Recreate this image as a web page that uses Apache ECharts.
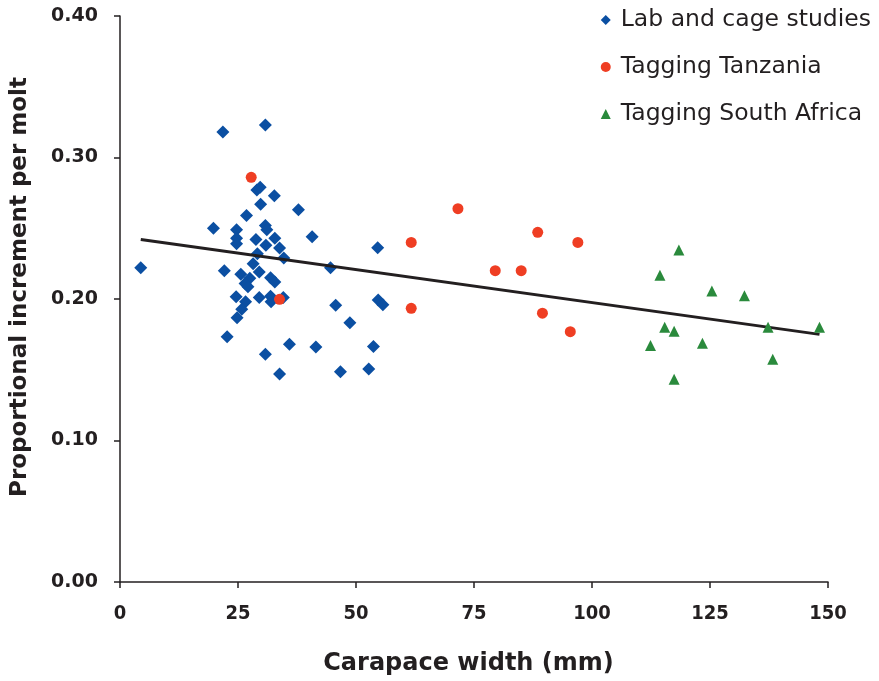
<!DOCTYPE html>
<html><head><meta charset="utf-8">
<script src="https://cdn.jsdelivr.net/npm/echarts@6/dist/echarts.min.js"></script>
<style>html,body{margin:0;padding:0;background:#fff}#c{width:879px;height:681px}</style>
</head><body><div id="c"></div>
<script>
const labX = [4.4,21.8,30.8,29.0,29.7,32.7,29.8,37.8,26.8,19.8,24.7,30.8,31.1,40.7,24.7,28.8,32.8,24.7,30.9,33.8,29.1,34.7,22.1,28.2,29.5,25.6,27.5,26.5,27.1,31.9,32.8,24.6,29.5,31.9,32.0,34.6,26.6,25.8,24.8,22.7,35.9,41.5,30.8,33.8,54.6,44.6,45.7,54.7,55.7,48.7,53.7,46.7,52.7];
const labY = [0.222,0.318,0.323,0.277,0.279,0.273,0.267,0.263,0.259,0.250,0.249,0.252,0.249,0.244,0.243,0.242,0.243,0.239,0.238,0.236,0.232,0.229,0.220,0.225,0.219,0.2175,0.2146,0.211,0.2087,0.215,0.212,0.2016,0.201,0.202,0.198,0.201,0.198,0.1927,0.1868,0.1734,0.168,0.166,0.161,0.147,0.2363,0.222,0.1955,0.1993,0.196,0.1833,0.1664,0.1486,0.1505];
const tanX = [27.8,33.8,61.7,71.6,88.5,97.0,79.5,85.0,61.7,89.5,95.4];
const tanY = [0.286,0.1998,0.240,0.2638,0.2471,0.240,0.220,0.220,0.1934,0.190,0.1769];
const saX = [118.4,114.4,125.4,132.3,115.4,117.4,137.3,148.2,112.4,123.4,138.3,117.4];
const saY = [0.2346,0.2167,0.2057,0.2023,0.180,0.1772,0.180,0.180,0.1672,0.1687,0.1574,0.1432];
const trendX = [4.4,148.2];
const trendY = [0.242,0.175];
const seriesNames = ['Lab and cage studies','Tagging Tanzania','Tagging South Africa'];
const xTitle = 'Carapace width (mm)';
const yTitle = 'Proportional increment per molt';

const zip = (a,b)=>a.map((v,i)=>[v,b[i]]);
const txt = '#231f20';
const FF = '"DejaVu Sans", Verdana, sans-serif';
const FFC = '"DejaVu Sans Condensed", "DejaVu Sans", sans-serif';
const chart = echarts.init(document.getElementById('c'));
chart.setOption({
  animation:false,
  backgroundColor:'#fff',
  textStyle:{fontFamily:FF},
  grid:{left:120,right:51,top:16,bottom:99,containLabel:false,outerBoundsMode:'none'},
  legend:{
    orient:'vertical', right:3, top:3, itemGap:23, itemWidth:10, itemHeight:10,
    data:[{name:seriesNames[0],icon:'diamond'},{name:seriesNames[1],icon:'circle'},{name:seriesNames[2],icon:'triangle'}],
    textStyle:{fontSize:23.5,lineHeight:24,color:txt,fontFamily:FF,padding:[0,0,0,5]}
  },
  xAxis:{
    type:'value',min:0,max:150,interval:25,
    name:xTitle,nameLocation:'middle',nameGap:70,
    nameTextStyle:{fontSize:24,fontWeight:'bold',color:txt,fontFamily:FF,padding:[0,11,0,0]},
    axisLine:{lineStyle:{color:txt,width:1.5}},
    axisTick:{show:true,length:6,lineStyle:{color:txt,width:1.5}},
    axisLabel:{margin:22,fontSize:20,fontWeight:'bold',color:txt,fontFamily:FFC},
    splitLine:{show:false}
  },
  yAxis:{
    type:'value',min:0,max:0.4,interval:0.1,
    name:yTitle,nameLocation:'middle',nameGap:88,
    nameTextStyle:{fontSize:23,fontWeight:'bold',color:txt,fontFamily:FF,padding:[0,0,0,24]},
    axisLine:{show:true,lineStyle:{color:txt,width:1.5}},
    axisTick:{show:true,length:6,lineStyle:{color:txt,width:1.5}},
    axisLabel:{margin:22,fontSize:19,fontWeight:'bold',color:txt,fontFamily:FF,formatter:v=>v.toFixed(2)},
    splitLine:{show:false}
  },
  series:[
    {name:'trend',type:'line',data:zip(trendX,trendY),symbol:'none',lineStyle:{color:txt,width:3},z:3,silent:true},
    {name:seriesNames[0],type:'scatter',symbol:'diamond',symbolSize:13,data:zip(labX,labY),itemStyle:{color:'#0b4fa2',opacity:1},z:2},
    {name:seriesNames[1],type:'scatter',symbol:'circle',symbolSize:11,data:zip(tanX,tanY),itemStyle:{color:'#ef3e23',opacity:1},z:4},
    {name:seriesNames[2],type:'scatter',symbol:'triangle',symbolSize:11,data:zip(saX,saY),itemStyle:{color:'#2a8a3c',opacity:1},z:4}
  ]
});
</script></body></html>
